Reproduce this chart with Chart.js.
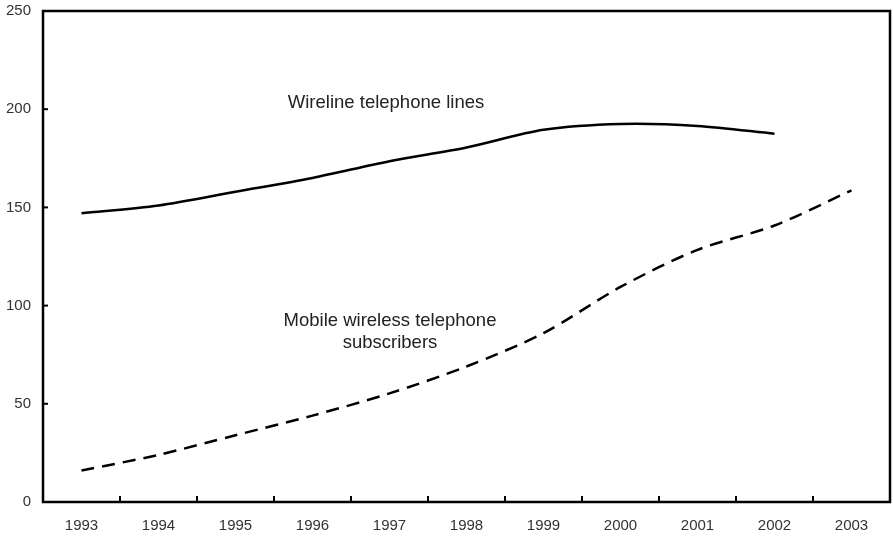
<!DOCTYPE html>
<html>
<head>
<meta charset="utf-8">
<script src="https://cdn.jsdelivr.net/npm/chart.js@4/dist/chart.umd.min.js"></script>
<style>
  html, body { margin: 0; padding: 0; background: #fff; }
  #wrap { width: 893px; height: 539px; position: relative; }
</style>
</head>
<body>
<div id="wrap"><canvas id="phoneChart"></canvas></div>
<script>
    const years = ['1993', '1994', '1995', '1996', '1997', '1998', '1999', '2000', '2001', '2002', '2003'];
    const wirelineLines = [147, 151, 158, 165, 173.5, 180.5, 189.5, 192.5, 191.5, 187.5, null];
    const mobileSubscribers = [16, 24, 34, 44, 55.3, 69, 86, 109.5, 128.4, 140.8, 158.7];
    const yTicks = [0, 50, 100, 150, 200, 250];

    // frame + inward tick marks + inline labels
    const framePlugin = {
        id: 'frame',
        afterDraw(chart) {
            const ctx = chart.ctx;
            const a = chart.chartArea;
            const x = chart.scales.x;
            const y = chart.scales.y;
            ctx.save();
            ctx.strokeStyle = '#000';
            ctx.lineWidth = 2.5;
            ctx.strokeRect(a.left, a.top, a.right - a.left, a.bottom - a.top);

            ctx.lineWidth = 2;
            yTicks.forEach(v => {
                const py = y.getPixelForValue(v);
                ctx.beginPath();
                ctx.moveTo(a.left, py);
                ctx.lineTo(a.left + 5, py);
                ctx.stroke();
            });
            for (let i = 1; i < years.length; i++) {
                const px = (x.getPixelForValue(i - 1) + x.getPixelForValue(i)) / 2;
                ctx.beginPath();
                ctx.moveTo(px, a.bottom);
                ctx.lineTo(px, a.bottom - 6);
                ctx.stroke();
            }

            ctx.fillStyle = '#222';
            ctx.font = '18.5px "Liberation Sans", Arial, sans-serif';
            ctx.textAlign = 'center';
            ctx.textBaseline = 'middle';
            ctx.fillText('Wireline telephone lines', 386, 103);
            ctx.fillText('Mobile wireless telephone', 390, 321);
            ctx.fillText('subscribers', 390, 343);
            ctx.restore();
        }
    };

    const ctx = document.getElementById('phoneChart').getContext('2d');
    const phoneChart = new Chart(ctx, {
        type: 'line',
        data: {
            labels: years,
            datasets: [
                {
                    label: 'Wireline telephone lines',
                    data: wirelineLines,
                    borderColor: '#000',
                    borderWidth: 2.5,
                    pointRadius: 0,
                    tension: 0.3,
                    fill: false
                },
                {
                    label: 'Mobile wireless telephone subscribers',
                    data: mobileSubscribers,
                    borderColor: '#000',
                    borderWidth: 2.5,
                    borderDash: [13, 8],
                    pointRadius: 0,
                    tension: 0.3,
                    fill: false
                }
            ]
        },
        options: {
            responsive: true,
            maintainAspectRatio: false,
            animation: false,
            layout: { padding: { top: 11, right: 3, left: 0, bottom: 0 } },
            plugins: {
                legend: { display: false },
                tooltip: { enabled: false }
            },
            scales: {
                x: {
                    offset: true,
                    grid: { display: false, drawTicks: false },
                    border: { display: false },
                    ticks: {
                        color: '#333',
                        padding: 15,
                        maxRotation: 0,
                        font: { family: '"Liberation Sans", Arial, sans-serif', size: 15 }
                    },
                    afterFit(scale) {
                        scale.height = 37;
                        scale.paddingLeft = 0;
                        scale.paddingRight = 0;
                    }
                },
                y: {
                    min: 0,
                    max: 250,
                    grid: { display: false, drawTicks: false },
                    border: { display: false },
                    ticks: {
                        stepSize: 50,
                        color: '#333',
                        padding: 12,
                        font: { family: '"Liberation Sans", Arial, sans-serif', size: 15 }
                    },
                    afterFit(scale) {
                        scale.width = 43;
                        scale.paddingTop = 0;
                        scale.paddingBottom = 0;
                    }
                }
            }
        },
        plugins: [framePlugin]
    });
</script>
</body>
</html>
